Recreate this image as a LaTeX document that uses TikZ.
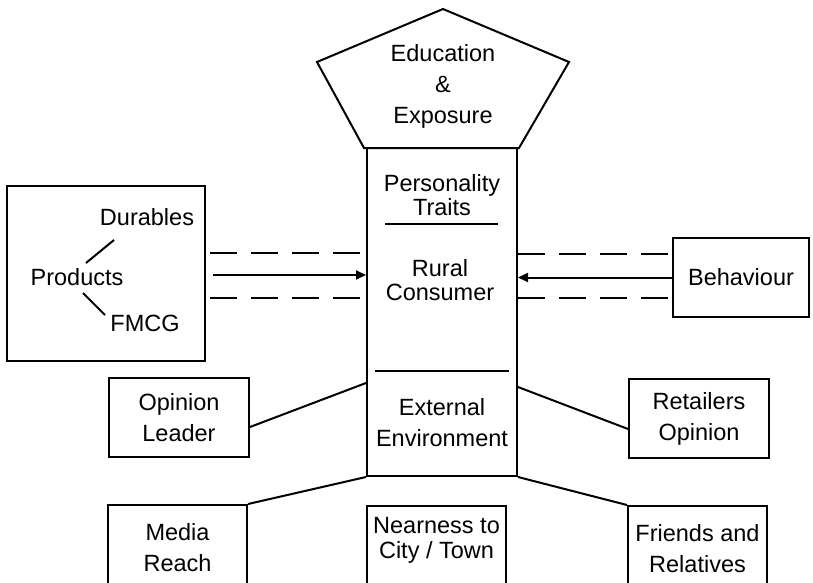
\documentclass[tikz,border=0pt]{standalone}
\usepackage{fontspec}
\setmainfont{Liberation Sans}
\usetikzlibrary{arrows.meta}
\begin{document}
\begin{tikzpicture}[x=1pt,y=-1pt,
  lw/.style={line width=2pt},
  box/.style={draw, lw, rectangle, inner sep=0pt},
  txt/.style={align=center, font=\fontsize{23.5}{31}\selectfont, inner sep=0pt},
  tight/.style={font=\fontsize{23.5}{24}\selectfont},
  dsh/.style={lw, dash pattern=on 27pt off 14pt},
  arr/.style={lw, -{Triangle[length=10pt,width=9pt]}}
]
\useasboundingbox (0,0) rectangle (813,583);
\clip (0,0) rectangle (813,583);

% pentagon
\draw[lw] (443,9) -- (569,62) -- (519,148) -- (364,148) -- (317,62) -- cycle;
\node[txt] (edu) at (443,86) {Education\\\&\\Exposure};

% central column
\node[box, minimum width=150, minimum height=328] (col) at (442,312) {};
\node[txt, tight] (pers) at (442,195) {Personality\\Traits};
\draw[lw] (385,224) -- (498,224);
\node[txt, tight] (rural) at (440,280) {Rural\\Consumer};
\draw[lw] (375,371) -- (509,371);
\node[txt] (ext) at (442,423) {External\\Environment};

% products box
\node[box, minimum width=198, minimum height=175] (prodbox) at (106,273.5) {};
\node[txt] (dur) at (147,217) {Durables};
\node[txt] (prod) at (77,277) {Products};
\node[txt] (fmcg) at (145,323) {FMCG};
\coordinate (p1) at (86,263); \coordinate (d1) at (114,240);
\coordinate (p2) at (83,293); \coordinate (f1) at (105,315);
\draw[lw] (p1) -- (d1);
\draw[lw] (p2) -- (f1);

% left links
\coordinate (la) at ([xshift=7pt,yshift=-1.5pt]prodbox.east);
\draw[arr] (la) -- (la -| col.west);
\coordinate (ld1a) at (210,253); \coordinate (ld1b) at (362,253);
\coordinate (ld2a) at (210,298); \coordinate (ld2b) at (362,298);
\draw[dsh] (ld1a) -- (ld1b);
\draw[dsh] (ld2a) -- (ld2b);

% behaviour
\node[box, txt, minimum width=136, minimum height=79] (beh) at (741,277.5) {Behaviour};
\draw[arr] (beh.west) -- (beh.west -| col.east);
\coordinate (rd1a) at (518,254); \coordinate (rd1b) at (670,254);
\coordinate (rd2a) at (518,298); \coordinate (rd2b) at (670,298);
\draw[dsh] (rd1a) -- (rd1b);
\draw[dsh] (rd2a) -- (rd2b);

% opinion leader / retailers
\node[box, txt, minimum width=140, minimum height=79] (opl) at (179,417.5) {Opinion\\Leader};
\draw[lw] ([yshift=-9.5pt]opl.east) -- ([yshift=-71pt]col.west);
\node[box, txt, minimum width=140, minimum height=79] (ret) at (699,418.5) {Retailers\\Opinion};
\draw[lw] ([yshift=-75pt]col.east) -- ([yshift=-10.5pt]ret.west);

% bottom row
\node[box, txt, minimum width=139, minimum height=85] (media) at (177.5,547.5) {Media\\Reach};
\node[box, minimum width=139, minimum height=85] (near) at (436.5,548.5) {};
\node[txt, font=\fontsize{23.5}{25}\selectfont] (neart) at (436.5,540) {Nearness to\\City / Town};
\node[box, txt, minimum width=139, minimum height=85] (friends) at (697.5,548.5) {Friends and\\Relatives};
\draw[lw] (media.north east) -- (col.south west);
\draw[lw] (col.south east) -- (friends.north west);
\end{tikzpicture}
\end{document}
